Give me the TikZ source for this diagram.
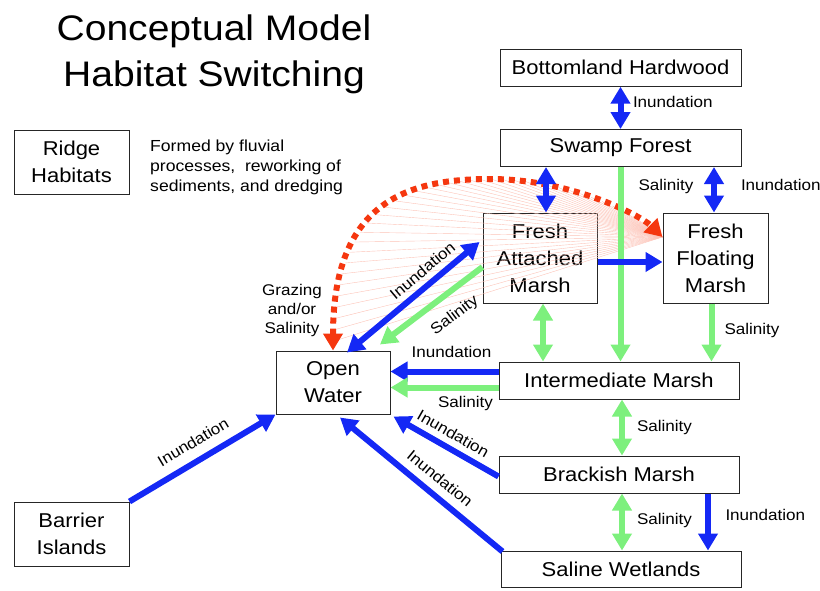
\documentclass[tikz,border=0pt]{standalone}
\usepackage{fontspec}
\setmainfont{Liberation Sans}[FakeStretch=1.1]
\usetikzlibrary{arrows.meta,positioning,decorations.markings}
\definecolor{flowblue}{RGB}{20,40,245}
\definecolor{flowgreen}{RGB}{125,240,125}
\definecolor{grazered}{RGB}{245,55,15}
\tikzset{
  habitat/.style={draw=black!85, line width=1pt, inner sep=0pt, align=center,
    font=\fontsize{20}{27}\selectfont},
  flowlabel/.style={inner sep=0pt, font=\fontsize{15.5}{19}\selectfont},
  bluearrow/.style={draw=flowblue, fill=flowblue, line width=6pt,
    -{Triangle[length=17pt,width=19pt]}},
  greenarrow/.style={draw=flowgreen, fill=flowgreen, line width=6pt,
    -{Triangle[length=17pt,width=19pt]}},
  bluetwoway/.style={bluearrow,
    {Triangle[length=17pt,width=19pt]}-{Triangle[length=17pt,width=19pt]}},
  greentwoway/.style={greenarrow,
    {Triangle[length=17pt,width=19pt]}-{Triangle[length=17pt,width=19pt]}},
  grazing/.style={draw=grazered, line width=6pt, dash pattern=on 6pt off 5pt,
    {Triangle[length=17pt,width=19pt,fill=grazered]}-{Triangle[length=17pt,width=19pt,fill=grazered]}},
  fanline/.style={draw=grazered!30, line width=0.4pt}
}
\begin{document}
\begin{tikzpicture}[x=1pt, y=-1pt]
	\useasboundingbox (0,0) rectangle (820,590);
	% Title and notes
	\node[anchor=north, align=center, font=\fontsize{35.5}{46}\selectfont] (title) at (214,11) {Conceptual Model\\Habitat Switching};
	\node[habitat, minimum width=115pt, minimum height=64pt] (ridge) at (71.5,162) {Ridge\\Habitats};
	\node[anchor=north west, align=left, inner sep=0pt, font=\fontsize{16}{20}\selectfont] (note) at (150,140) {Formed by fluvial\\processes,\ \ reworking of\\sediments, and dredging};
	% Habitats
	\node[habitat, minimum width=241pt, minimum height=37pt] (bh) at (620.5,67.7) {Bottomland Hardwood};
	\node[habitat, minimum width=241pt, minimum height=37pt] (sf) at (620.5,148) {Swamp Forest};
	\node[habitat, minimum width=114pt, minimum height=90pt] (fam) at (540,258) {Fresh\\Attached\\Marsh};
	\node[habitat, minimum width=105pt, minimum height=90pt] (ffm) at (715.5,258) {Fresh\\Floating\\Marsh};
	\node[habitat, minimum width=240pt, minimum height=37pt] (im) at (619,380.5) {Intermediate Marsh};
	\node[habitat, minimum width=240pt, minimum height=37pt] (bm) at (619,474.5) {Brackish Marsh};
	\node[habitat, minimum width=240pt, minimum height=36pt] (sw) at (621,569) {Saline Wetlands};
	\node[habitat, minimum width=114pt, minimum height=63pt] (ow) at (333,382.5) {Open\\Water};
	\node[habitat, minimum width=115pt, minimum height=64pt] (bi) at (71.5,534) {Barrier\\Islands};
	% Grazing link
	\coordinate (ffmtip) at ([yshift=21pt]ffm.west);
	\coordinate (gtop) at (490,179);
	\path[decorate, decoration={markings, mark=between positions 0.02 and 0.98 step 0.025 with {\draw[fanline] (0,0) -- (ffmtip);}}]
		(ow.north) .. controls (333,200) and (410,179) .. (gtop) .. controls (570,179) and (640,215) .. (ffmtip);
	\draw[grazing] (ow.north) .. controls (333,200) and (410,179) .. (gtop) .. controls (570,179) and (640,215) .. (ffmtip);
	\node[align=center, inner sep=0pt, font=\fontsize{15.5}{19}\selectfont] (grazelbl) at (292,310) {Grazing\\and/or\\Salinity};
	% Upper links
	\draw[bluetwoway] (bh) -- (sf) node[flowlabel, midway, right=9.5pt, yshift=6pt] {Inundation};
	\draw[bluetwoway] ([xshift=6pt]fam.north) -- ([xshift=6pt]fam.north |- sf.south);
	\draw[greenarrow] (sf.south) -- (sf.south |- im.north) node[flowlabel, pos=0.1, right=15pt] {Salinity};
	\draw[bluetwoway] ([xshift=-1.5pt]ffm.north) -- ([xshift=-1.5pt]ffm.north |- sf.south) node[flowlabel, midway, right=24pt, yshift=4.5pt] {Inundation};
	\draw[bluearrow] ([yshift=-4pt]fam.east) -- ([yshift=-4pt]ffm.west);
	\draw[greenarrow] ([xshift=-4pt]ffm.south) -- ([xshift=-4pt]ffm.south |- im.north) node[flowlabel, pos=0.46, right=10pt] {Salinity};
	\draw[greentwoway] ([xshift=3pt]fam.south) -- ([xshift=3pt]fam.south |- im.north);
	% Into open water
	\draw[bluetwoway] ([shift={(-3,-16)}]fam.west) -- ([shift={(14,2)}]ow.north) node[flowlabel, sloped, pos=0.36, above=6pt] {Inundation};
	\draw[greenarrow] ([yshift=-9pt]fam.west) -- ([shift={(47,-6)}]ow.north) node[flowlabel, sloped, pos=0.4, below=12pt] {Salinity};
	\draw[bluearrow] ([yshift=9pt]im.west) -- ([yshift=9pt]im.west -| ow.east) node[flowlabel, midway, above=11pt, xshift=7pt] {Inundation};
	\draw[greenarrow] ([yshift=-7pt]im.west) -- ([yshift=-7pt]im.west -| ow.east) node[flowlabel, midway, below=5.5pt, xshift=21pt] {Salinity};
	\draw[bluearrow] ([yshift=-2pt]bm.west) -- ([shift={(3,2)}]ow.south east) node[flowlabel, sloped, midway, above=6pt] {Inundation};
	\draw[bluearrow] ([shift={(2,1)}]sw.north west) -- ([shift={(7,3)}]ow.south) node[flowlabel, sloped, pos=0.45, above=8pt] {Inundation};
	\draw[bluearrow] (bi.north east) -- (ow.south west) node[flowlabel, sloped, midway, above=10pt] {Inundation};
	% Lower links
	\draw[greentwoway] ([xshift=3pt]im.south) -- ([xshift=3pt]im.south |- bm.north) node[flowlabel, midway, right=12pt] {Salinity};
	\draw[greentwoway] ([xshift=3pt]bm.south) -- ([xshift=3pt]bm.south |- sw.north) node[flowlabel, midway, right=12pt, yshift=1.5pt] {Salinity};
	\draw[bluearrow] ([xshift=89pt]bm.south) -- ([xshift=89pt]bm.south |- sw.north) node[flowlabel, midway, right=14.5pt, yshift=7pt] {Inundation};
\end{tikzpicture}
\end{document}
